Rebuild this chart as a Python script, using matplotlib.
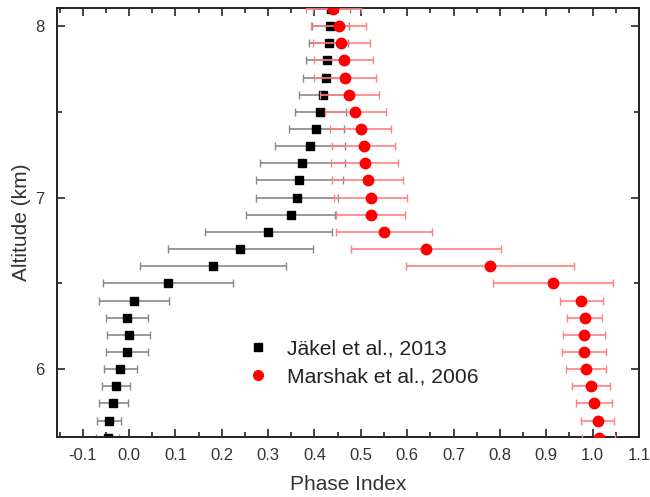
import numpy as np
import matplotlib
matplotlib.use('Agg')
import matplotlib.pyplot as plt
from matplotlib.ticker import MultipleLocator
from matplotlib.lines import Line2D

plt.rcParams['font.family'] = ['Liberation Sans', 'DejaVu Sans']

# altitude levels (km)
altitude = [8.1, 8.0, 7.9, 7.8, 7.7, 7.6, 7.5, 7.4, 7.3, 7.2, 7.1, 7.0, 6.9,
            6.8, 6.7, 6.6, 6.5, 6.4, 6.3, 6.2, 6.1, 6.0, 5.9, 5.8, 5.7, 5.6]

# Jakel et al., 2013
jakel = [0.436, 0.434, 0.431, 0.427, 0.424, 0.419, 0.413, 0.404, 0.390, 0.374,
         0.367, 0.362, 0.349, 0.300, 0.240, 0.181, 0.084, 0.011, -0.005, -0.001,
         -0.005, -0.019, -0.028, -0.034, -0.043, -0.046]
jakel_err = [0.040, 0.040, 0.042, 0.045, 0.048, 0.052, 0.056, 0.060, 0.076, 0.092,
             0.094, 0.088, 0.096, 0.137, 0.156, 0.158, 0.141, 0.076, 0.045, 0.047,
             0.045, 0.036, 0.030, 0.031, 0.026, 0.025]

# Marshak et al., 2006
marshak = [0.441, 0.452, 0.458, 0.463, 0.466, 0.475, 0.488, 0.500, 0.506, 0.508,
           0.515, 0.521, 0.521, 0.550, 0.640, 0.779, 0.915, 0.976, 0.983, 0.981,
           0.981, 0.986, 0.996, 1.003, 1.011, 1.013]
marshak_err = [0.060, 0.060, 0.062, 0.064, 0.066, 0.064, 0.066, 0.066, 0.068, 0.072,
               0.077, 0.078, 0.075, 0.104, 0.162, 0.181, 0.129, 0.046, 0.038, 0.045,
               0.047, 0.043, 0.041, 0.039, 0.036, 0.035]

fig = plt.figure(figsize=(6.5, 4.97), dpi=100)
ax = fig.add_axes([0.088, 0.121, 0.895, 0.862])

ax.errorbar(jakel, altitude, xerr=jakel_err, fmt='s', color='black', ms=6,
            ecolor='#888888', elinewidth=1.2, capsize=3, capthick=1, zorder=2)
ax.errorbar(marshak, altitude, xerr=marshak_err, fmt='o', color='red', ms=7.5,
            ecolor='#ff8080', elinewidth=1.2, capsize=3, capthick=1, zorder=3)

ax.set_xlim(-0.155, 1.1)
ax.set_ylim(5.605, 8.103)
ax.xaxis.set_major_locator(MultipleLocator(0.1))
ax.xaxis.set_minor_locator(MultipleLocator(0.05))
ax.yaxis.set_major_locator(MultipleLocator(1))
ax.yaxis.set_minor_locator(MultipleLocator(0.5))
ax.xaxis.set_major_formatter(matplotlib.ticker.FormatStrFormatter('%.1f'))
ax.yaxis.set_major_formatter(matplotlib.ticker.FormatStrFormatter('%d'))
ax.tick_params(which='both', direction='in', top=True, right=True, labelsize=12,
               width=1.2, colors='#222222', labelcolor='#333333')
ax.tick_params(which='major', length=6)
ax.tick_params(which='minor', length=3.5)
ax.tick_params(axis='x', which='major', pad=8)
ax.tick_params(axis='y', which='major', pad=9)
for s in ax.spines.values():
    s.set_linewidth(1.4)
    s.set_color('#222222')

ax.set_xlabel('Phase Index', fontsize=15, color='#333333', labelpad=9)
ax.set_ylabel('Altitude (km)', fontsize=15, color='#333333', labelpad=3)

handles = [Line2D([], [], ls='none', marker='s', color='black', ms=6),
           Line2D([], [], ls='none', marker='o', color='red', ms=7)]
ax.legend(handles, ['Jäkel et al., 2013', 'Marshak et al., 2006'], loc='center',
          bbox_to_anchor=(0.522, 0.173), frameon=False, fontsize=15.2,
          handletextpad=0.7, labelspacing=0.42, handlelength=1.4,
          labelcolor='#222222')

fig.savefig('out.png', dpi=100)
